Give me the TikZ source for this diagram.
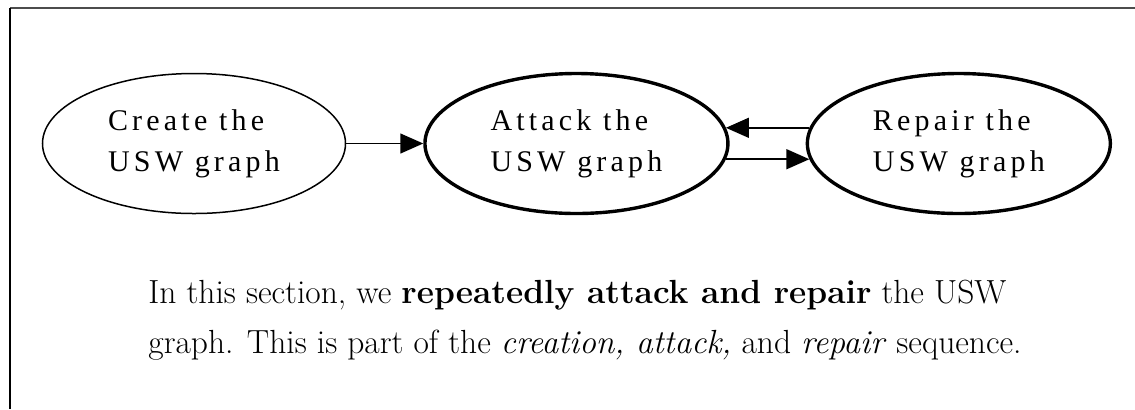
\documentclass[tikz,border=0pt]{standalone}
\usepackage{fontspec}
\usepackage{tikz}
\usetikzlibrary{arrows.meta,positioning,shapes.geometric}
\newfontfamily\gvfont[LetterSpace=14]{Liberation Serif}
\tikzset{
  stage/.style={
    ellipse,
    draw=black,
    line width=0.75pt,
    inner sep=0pt,
    minimum width=151.5pt,
    minimum height=70pt,
    align=left,
    font=\gvfont\fontsize{15}{20.5}\selectfont
  },
  stagebold/.style={stage, line width=1.7pt},
  stagearrow/.style={-{Triangle[length=11.5pt,width=10pt]}, line width=0.75pt}
}

\begin{document}
\begin{tikzpicture}[x=0.5pt,y=-0.5pt]
\useasboundingbox (0,0) rectangle (1135,409);
\draw[black!70, line width=1pt] (10,8) -- (1135,8);
\draw[line width=0.8pt] (10,8) -- (10,409);
\node[stage] (create) at (194,143.5) {Create the\\USW graph};
\node[stagebold, right=38.5pt of create] (attack) {Attack the\\USW graph};
\node[stagebold, right=38pt of attack] (repair) {Repair the\\USW graph};
\draw[stagearrow] (create) -- (attack);
\draw[stagearrow] (repair.174) -- (attack.6);
\draw[stagearrow] (attack.-6) -- (repair.186);
\node[anchor=base west, inner sep=0pt, align=left,
  font=\fontsize{16.73}{25}\selectfont] (desc) at (148,353)
  {In this section, we \textbf{repeatedly attack and repair} the USW\\
   graph. This is part of the \textit{creation, attack,} and \textit{repair} sequence.};
\end{tikzpicture}
\end{document}
